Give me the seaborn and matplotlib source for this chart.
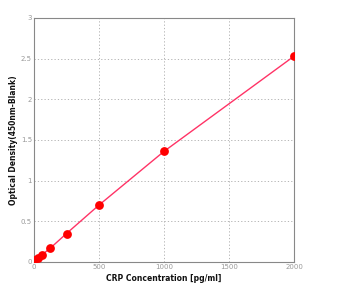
import matplotlib
matplotlib.use("Agg")
import matplotlib.pyplot as plt
import seaborn as sns
import pandas as pd

concentration = [0, 31.25, 62.5, 125, 250, 500, 1000, 2000]
optical_density = [0.02, 0.05, 0.09, 0.17, 0.35, 0.70, 1.36, 2.53]
x_ticks = [0, 500, 1000, 1500, 2000]
y_ticks = [0, 0.5, 1, 1.5, 2, 2.5, 3]

df = pd.DataFrame({"conc": concentration, "od": optical_density})

sns.set_style("white")
plt.rcParams["font.family"] = ["DejaVu Sans"]

fig = plt.figure(figsize=(3.39, 2.96), dpi=100)
ax = fig.add_axes([34/339, 1 - 262/296, 260/339, 244/296])

sns.lineplot(data=df, x="conc", y="od", ax=ax, color="#ff3366", linewidth=1.0, zorder=2)
sns.scatterplot(data=df, x="conc", y="od", ax=ax, color="#ff0000", s=40, edgecolor="#ff0000", linewidth=0, zorder=3)

ax.set_xlim(0, 2000)
ax.set_ylim(0, 3)
ax.set_xticks(x_ticks)
ax.set_yticks(y_ticks)
ax.set_xticklabels([str(t) for t in x_ticks])
ax.set_yticklabels(["0", "0.5", "1", "1.5", "2", "2.5", "3"])
ax.grid(True, linestyle=(0, (1.5, 2.5)), color="#aaaaaa", linewidth=0.6)
for s in ax.spines.values():
    s.set_color("#888888")
    s.set_linewidth(0.8)
ax.tick_params(axis="both", labelsize=5, colors="#999999", length=0, pad=1.5)
ax.set_xlabel("CRP Concentration [pg/ml]", fontsize=5.5, color="#111111", labelpad=3, fontweight="semibold")
ax.set_ylabel("Optical Density(450nm-Blank)", fontsize=5.5, color="#111111", labelpad=2, fontweight="semibold")

fig.savefig("out.png", dpi=100, facecolor="white")
